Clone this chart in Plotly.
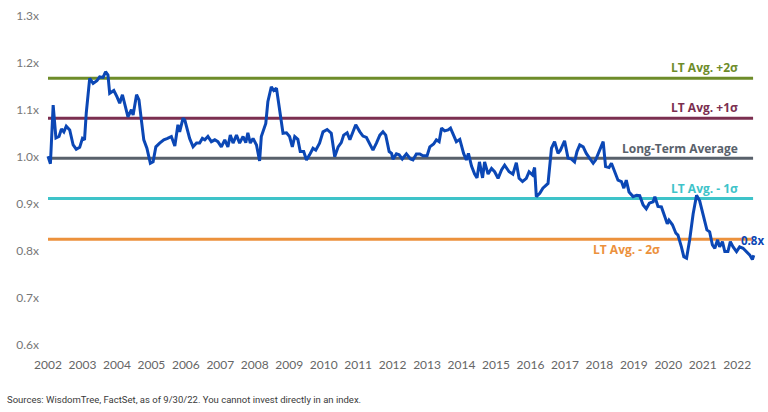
import plotly.graph_objects as go

# ---- data (decimal year, valuation multiple) ----
years = [2002.00, 2002.07, 2002.15, 2002.23, 2002.32, 2002.39, 2002.46, 2002.53, 2002.63, 2002.73,
         2002.82, 2002.92, 2003.00, 2003.06, 2003.11, 2003.21, 2003.31, 2003.42, 2003.50, 2003.60,
         2003.67, 2003.74, 2003.79, 2003.91, 2004.00, 2004.08, 2004.16, 2004.25, 2004.32, 2004.42,
         2004.47, 2004.57, 2004.64, 2004.71, 2004.78, 2004.87, 2004.97, 2005.05, 2005.13, 2005.24,
         2005.36, 2005.47, 2005.58, 2005.68, 2005.77, 2005.82, 2005.92, 2005.97, 2006.11, 2006.21,
         2006.31, 2006.40, 2006.48, 2006.55, 2006.64, 2006.74, 2006.84, 2006.93, 2007.03, 2007.13,
         2007.22, 2007.29, 2007.37, 2007.47, 2007.56, 2007.66, 2007.74, 2007.80, 2007.87, 2007.95,
         2008.05, 2008.14, 2008.19, 2008.32, 2008.38, 2008.48, 2008.55, 2008.63, 2008.74, 2008.82,
         2008.92, 2009.01, 2009.09, 2009.16, 2009.25, 2009.32, 2009.42, 2009.50, 2009.59, 2009.69,
         2009.77, 2009.88, 2009.98, 2010.10, 2010.22, 2010.32, 2010.42, 2010.51, 2010.58, 2010.68,
         2010.76, 2010.83, 2010.93, 2011.05, 2011.14, 2011.24, 2011.36, 2011.43, 2011.53, 2011.63,
         2011.72, 2011.80, 2011.90, 2011.97, 2012.01, 2012.11, 2012.19, 2012.28, 2012.40, 2012.52,
         2012.59, 2012.69, 2012.79, 2012.88, 2013.00, 2013.08, 2013.19, 2013.27, 2013.35, 2013.42,
         2013.51, 2013.61, 2013.68, 2013.77, 2013.85, 2013.95, 2014.06, 2014.14, 2014.20, 2014.29,
         2014.38, 2014.45, 2014.52, 2014.61, 2014.67, 2014.77, 2014.87, 2014.96, 2015.06, 2015.16,
         2015.25, 2015.38, 2015.49, 2015.59, 2015.67, 2015.77, 2015.88, 2015.96, 2016.06, 2016.12,
         2016.17, 2016.27, 2016.36, 2016.51, 2016.61, 2016.70, 2016.80, 2016.87, 2016.99, 2017.09,
         2017.19, 2017.28, 2017.35, 2017.43, 2017.53, 2017.62, 2017.72, 2017.82, 2017.89, 2018.01,
         2018.11, 2018.18, 2018.28, 2018.35, 2018.45, 2018.54, 2018.64, 2018.71, 2018.78, 2018.86,
         2018.98, 2019.08, 2019.17, 2019.27, 2019.36, 2019.45, 2019.56, 2019.61, 2019.70, 2019.80,
         2019.90, 2019.97, 2020.02, 2020.12, 2020.22, 2020.28, 2020.38, 2020.45, 2020.53, 2020.62,
         2020.72, 2020.82, 2020.91, 2020.99, 2021.06, 2021.12, 2021.20, 2021.28, 2021.35, 2021.43,
         2021.49, 2021.57, 2021.64, 2021.73, 2021.80, 2021.88, 2021.98, 2022.07, 2022.17, 2022.27,
         2022.36, 2022.44, 2022.48]
values = [1.001, 0.985, 1.110, 1.040, 1.043, 1.059, 1.053, 1.065, 1.057, 1.025,
          1.016, 1.020, 1.039, 1.036, 1.093, 1.167, 1.156, 1.162, 1.170, 1.169,
          1.181, 1.174, 1.135, 1.141, 1.128, 1.114, 1.132, 1.107, 1.085, 1.100,
          1.089, 1.132, 1.121, 1.078, 1.036, 1.018, 0.986, 0.989, 1.021, 1.029,
          1.036, 1.039, 1.043, 1.023, 1.068, 1.053, 1.082, 1.078, 1.039, 1.021,
          1.029, 1.029, 1.039, 1.036, 1.043, 1.032, 1.036, 1.032, 1.021, 1.036,
          1.021, 1.046, 1.029, 1.046, 1.029, 1.043, 1.030, 1.051, 1.029, 1.039,
          1.025, 0.991, 1.043, 1.071, 1.117, 1.149, 1.141, 1.146, 1.085, 1.050,
          1.051, 1.043, 1.021, 1.043, 1.037, 1.011, 1.011, 0.993, 1.004, 1.018,
          1.014, 1.029, 1.053, 1.058, 1.050, 1.000, 1.021, 1.030, 1.046, 1.051,
          1.036, 1.051, 1.068, 1.053, 1.044, 1.041, 1.025, 1.014, 1.029, 1.046,
          1.053, 1.046, 1.011, 1.007, 0.995, 1.006, 1.004, 0.995, 1.006, 0.995,
          0.993, 1.006, 1.006, 1.002, 1.002, 1.021, 1.027, 1.036, 1.032, 1.061,
          1.055, 1.057, 1.061, 1.046, 1.032, 1.037, 1.007, 0.993, 1.007, 0.980,
          0.963, 0.955, 0.989, 0.955, 0.989, 0.963, 0.975, 0.968, 0.954, 0.972,
          0.982, 0.968, 0.963, 0.987, 0.954, 0.947, 0.954, 0.968, 0.961, 0.977,
          0.915, 0.922, 0.933, 0.943, 1.018, 1.032, 1.007, 1.014, 1.034, 0.997,
          0.995, 0.989, 1.011, 1.025, 1.021, 1.007, 0.997, 0.986, 0.993, 1.014,
          1.032, 0.979, 0.977, 0.986, 0.965, 0.950, 0.947, 0.933, 0.950, 0.925,
          0.915, 0.918, 0.917, 0.897, 0.889, 0.901, 0.904, 0.915, 0.894, 0.893,
          0.872, 0.857, 0.865, 0.855, 0.837, 0.833, 0.808, 0.787, 0.784, 0.823,
          0.878, 0.918, 0.906, 0.883, 0.858, 0.844, 0.840, 0.812, 0.805, 0.823,
          0.808, 0.819, 0.798, 0.798, 0.819, 0.808, 0.798, 0.808, 0.805, 0.798,
          0.791, 0.781, 0.790]

ref_names = ["LT Avg. +2σ", "LT Avg. +1σ", "Long-Term Average", "LT Avg. - 1σ", "LT Avg. - 2σ"]
ref_values = [1.167, 1.082, 0.9966, 0.911, 0.824]
ref_colors = ["#6e8c2a", "#7b2f50", "#59616b", "#3ec3c9", "#ec913c"]
ref_label_shift = [11, 11, 10, 10, -10]
ref_label_x = [2022.07, 2022.07, 2022.07, 2022.07, 2019.81]

tick_years = list(range(2002, 2023))
y_ticks = [0.6, 0.7, 0.8, 0.9, 1.0, 1.1, 1.2, 1.3]
current_label = "0.8x"

line_color = "#0b47b5"

fig = go.Figure()

x_start, x_end = years[0], 2022.46
for name, v, c in zip(ref_names, ref_values, ref_colors):
    fig.add_trace(go.Scatter(x=[x_start, x_end], y=[v, v], mode="lines",
                             line=dict(color=c, width=3), name=name,
                             hoverinfo="skip", showlegend=False))

fig.add_trace(go.Scatter(x=years, y=values, mode="lines",
                         line=dict(color=line_color, width=3),
                         name="Valuation", showlegend=False))

annotations = []
for name, v, c, sh, lx in zip(ref_names, ref_values, ref_colors, ref_label_shift, ref_label_x):
    annotations.append(dict(x=lx, y=v, xref="x", yref="y", text="<b>%s</b>" % name,
                            showarrow=False, xanchor="right", yanchor="middle", yshift=sh,
                            font=dict(family="Open Sans", size=12, color=c)))

annotations.append(dict(x=years[-1], y=values[-1], xref="x", yref="y",
                        text="<b>%s</b>" % current_label, showarrow=False,
                        xanchor="center", yanchor="middle", xshift=-1, yshift=15,
                        font=dict(family="Open Sans", size=11.5, color=line_color)))

annotations.append(dict(x=-0.048, y=-0.121, xref="paper", yref="paper",
                        text="Sources: WisdomTree, FactSet, as of 9/30/22. You cannot invest directly in an index.",
                        showarrow=False, xanchor="left", yanchor="middle",
                        font=dict(family="Roboto", size=9.5, color="#3a3a3a")))

fig.update_layout(
    width=768, height=412,
    margin=dict(l=40, r=0, t=0, b=56),
    paper_bgcolor="white", plot_bgcolor="white",
    showlegend=False,
    annotations=annotations,
    xaxis=dict(range=[2001.768, 2022.893], tickmode="array", tickvals=tick_years,
               ticktext=[str(y) for y in tick_years], showgrid=False, zeroline=False,
               showline=False, ticks="", tickfont=dict(family="Lato", size=12, color="#666666")),
    yaxis=dict(range=[0.5755, 1.3338], tickmode="array", tickvals=y_ticks,
               ticktext=["%.1fx" % t for t in y_ticks], showgrid=False, zeroline=False,
               showline=False, ticks="", tickfont=dict(family="Lato", size=12, color="#777777")),
)

fig.write_html("out.html")
